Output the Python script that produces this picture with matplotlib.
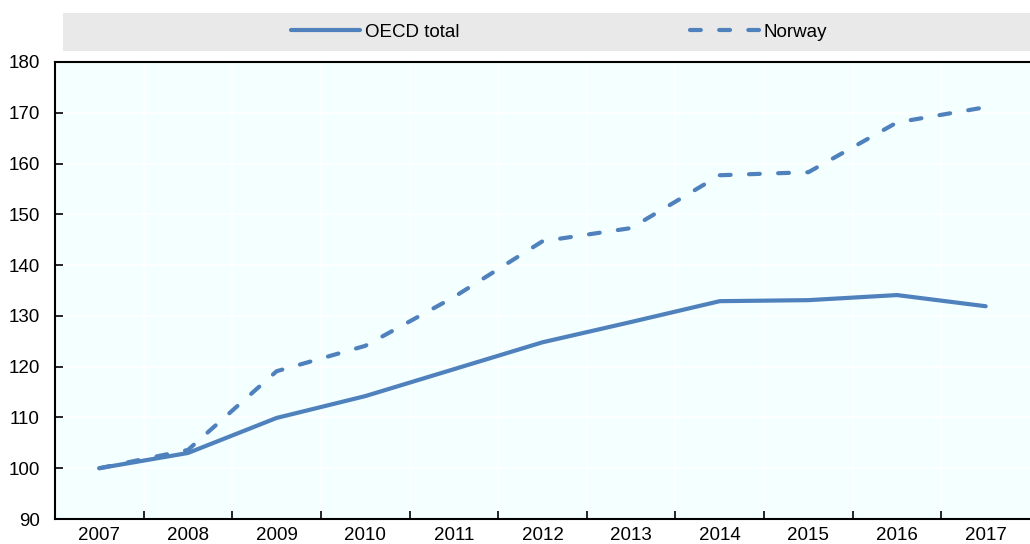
import matplotlib
matplotlib.use("Agg")
import matplotlib.pyplot as plt
from matplotlib.lines import Line2D

plt.rcParams['font.family'] = ['Liberation Sans Narrow', 'Liberation Sans', 'DejaVu Sans']

years = ['2007', '2008', '2009', '2010', '2011', '2012', '2013', '2014', '2015', '2016', '2017']
oecd_total = [100.0, 103.0, 109.9, 114.2, 119.5, 124.8, 128.8, 132.9, 133.1, 134.1, 131.9]
norway = [100.0, 103.6, 119.1, 124.1, 133.7, 144.7, 147.3, 157.7, 158.3, 168.1, 171.1]

blue = '#4F81BD'
fs = 13.5
dash = (2.6, 4.4)

fig = plt.figure(figsize=(10.3, 5.44), dpi=100)
ax = fig.add_axes([55 / 1030, 1 - 519 / 544, 975 / 1030, 457 / 544])
ax.set_facecolor('#F4FFFF')

x = list(range(len(years)))
ax.plot(x, oecd_total, color=blue, lw=3, solid_capstyle='round', zorder=3)
ax.plot(x, norway, color=blue, lw=3, dashes=dash, dash_capstyle='round', zorder=3)

ax.set_xlim(-0.5, len(years) - 0.5)
ax.set_ylim(90, 180)
ax.set_yticks(range(90, 181, 10))
ax.set_xticks(x)
ax.set_xticklabels(years)
ax.set_xticks([i + 0.5 for i in x[:-1]], minor=True)

ax.grid(False)
ax.yaxis.grid(True, color='white', lw=1.2, zorder=1)
ax.xaxis.grid(True, which='minor', color='white', lw=1.2, zorder=1)

ax.tick_params(axis='x', which='major', length=0, labelsize=fs, pad=6)
ax.tick_params(axis='x', which='minor', direction='in', length=6, width=1.2, color='black')
ax.tick_params(axis='y', direction='in', length=6, width=1.2, labelsize=fs, pad=11)

for s in ['left', 'bottom', 'top']:
    ax.spines[s].set_linewidth(1.5)
    ax.spines[s].set_color('black')
ax.spines['right'].set_visible(False)

# legend strip
lax = fig.add_axes([63 / 1030, 1 - 51 / 544, 967 / 1030, 38 / 544])
lax.set_facecolor('#E9E9E9')
lax.set_xticks([])
lax.set_yticks([])
for s in lax.spines.values():
    s.set_visible(False)
handles = [
    Line2D([], [], color=blue, lw=3, solid_capstyle='round'),
    Line2D([], [], color=blue, lw=3, dashes=dash, dash_capstyle='round'),
]
lax.legend(handles, ['OECD total', 'Norway'], loc='center', bbox_to_anchor=(0.513, 0.5),
           ncol=2, frameon=False, fontsize=fs, handlelength=3.7, handletextpad=0.25,
           columnspacing=12.3)

fig.savefig('out.png', dpi=100)
